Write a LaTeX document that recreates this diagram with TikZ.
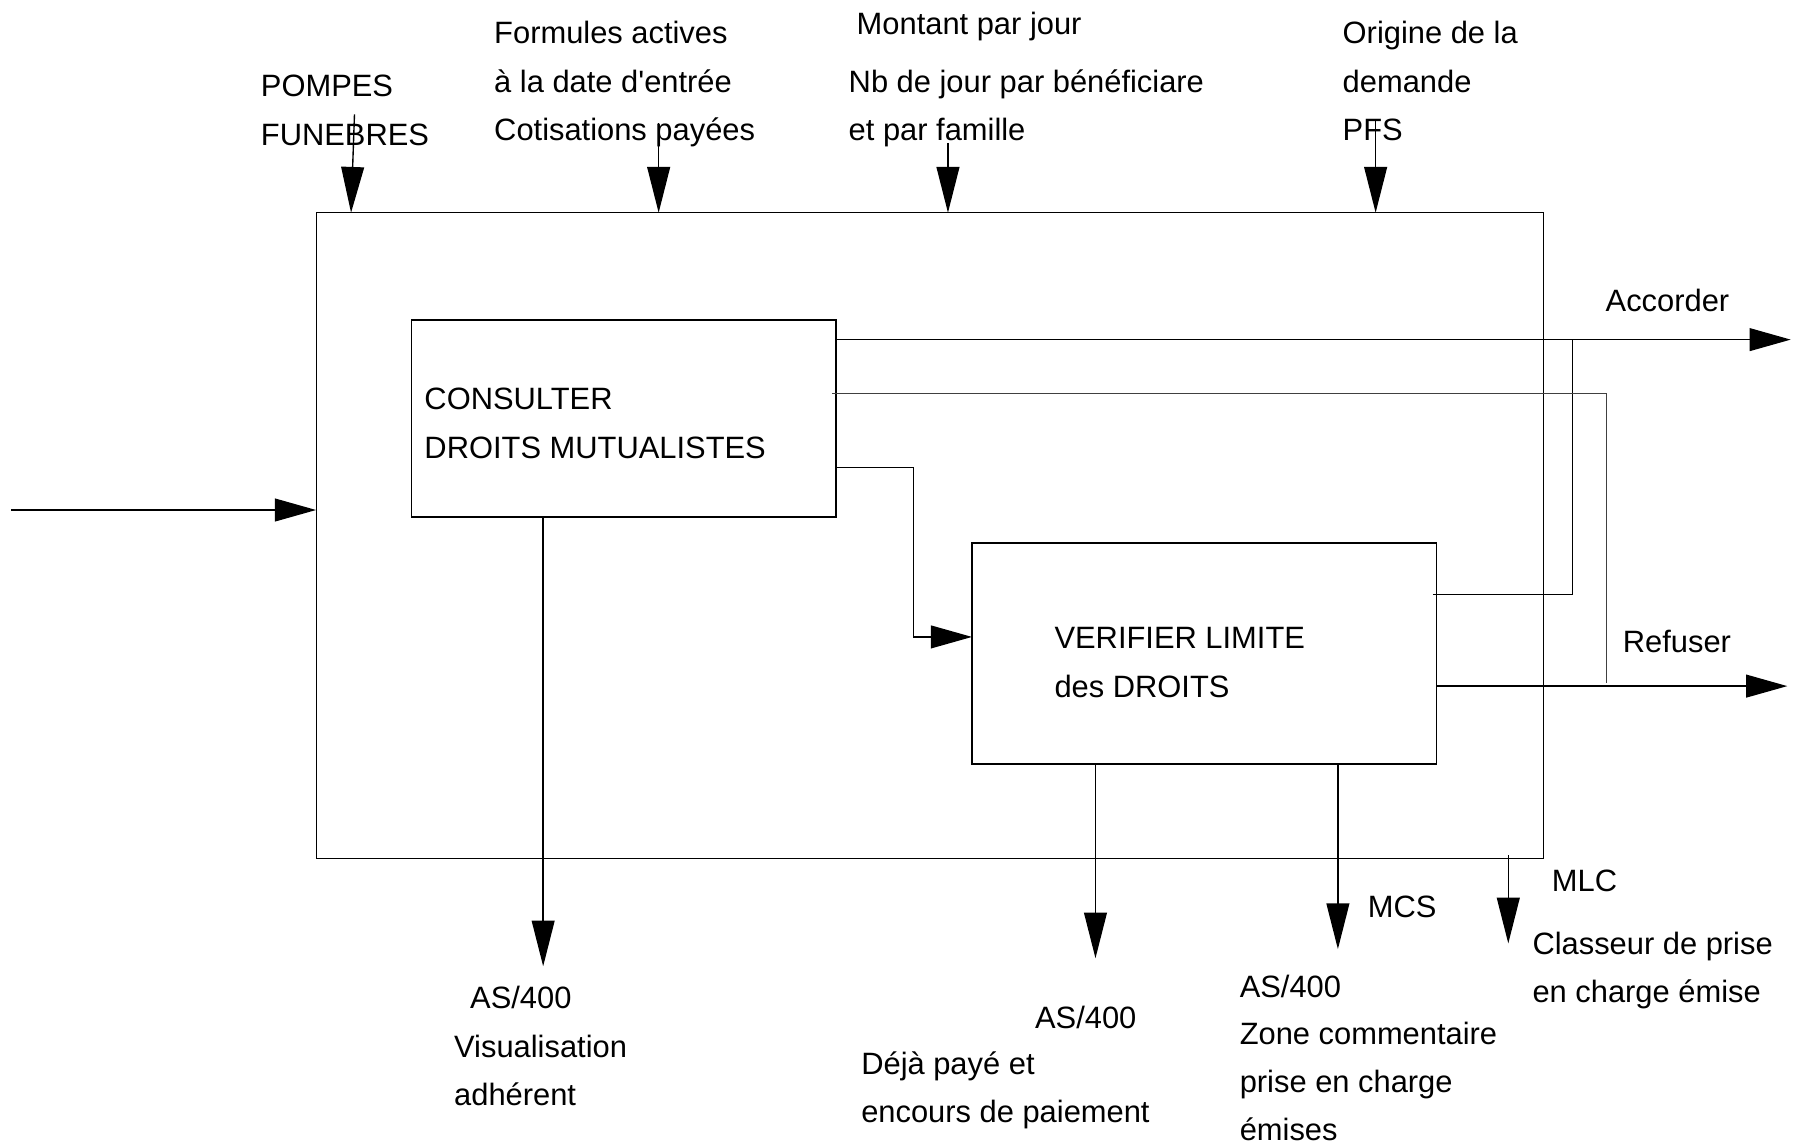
\documentclass[tikz,border=0pt]{standalone}
\usepackage{fontspec}
\setmainfont{Liberation Sans}
\usetikzlibrary{arrows.meta}
\begin{document}
\begin{tikzpicture}[x=1pt,y=-1pt,
  every node/.style={font=\fontsize{27}{42.5}\selectfont},
  lbl/.style={anchor=base west,align=left,inner sep=0pt},
  boxx/.style={draw,line width=1.2pt,inner sep=0pt,anchor=center},
  ln/.style={line width=1.2pt},
  arr/.style={line width=1.2pt,-{Triangle[length=40pt,width=20pt]}},
  harr/.style={line width=1.2pt,-{Triangle[length=36pt,width=20pt]}}]
\useasboundingbox (0,0) rectangle (1568,998);

% outer box
\node[boxx,minimum width=1073pt,minimum height=565pt] (outer) at (813.5,468.5) {};
% inner boxes
\node[boxx,minimum width=371pt,minimum height=172pt] (box1) at (545.5,366) {};
\node[boxx,minimum width=406pt,minimum height=193pt] (box2) at (1053,571.5) {};
\node[lbl] (box1t) at (371,401) {CONSULTER\\DROITS MUTUALISTES};
\node[lbl] (box2t) at (922,610) {VERIFIER LIMITE\\des DROITS};

% labels (anchor = baseline of last line)
\node[lbl] (pompes) at (228,127) {POMPES\\FUNEBRES};
\node[lbl] (formules) at (432,123) {Formules actives\\à la date d\textquotesingle entrée\\Cotisations payées};
\node[lbl] (montant) at (749,30) {Montant par jour};
\node[lbl] (nbjour) at (742,123) {Nb de jour par bénéficiare\\et par famille};
\node[lbl] (origine) at (1174,123) {Origine de la\\demande\\PFS};
\node[lbl] (accorder) at (1404,272) {Accorder};
\node[lbl] (refuser) at (1419,571) {Refuser};
\node[lbl] (asA) at (411,882) {AS/400};
\node[lbl] (visu) at (397,967) {Visualisation\\adhérent};
\node[lbl] (asB) at (905,899) {AS/400};
\node[lbl] (deja) at (753,982) {Déjà payé et\\encours de paiement};
\node[lbl] (mcs) at (1196,802) {MCS};
\node[lbl,font=\fontsize{27}{41.7}\selectfont] (zone) at (1084,997) {AS/400\\Zone commentaire\\prise en charge\\émises};
\node[lbl] (mlc) at (1357,780) {MLC};
\node[lbl] (classeur) at (1340,877) {Classeur de prise\\en charge émise};

% coordinates
\coordinate (inS) at (10,446);
\coordinate (pS) at (310,100);   \coordinate (pE) at (307,186);
\coordinate (fS) at (576,108);   \coordinate (fE) at (576,186);
\coordinate (mS) at (829,125);   \coordinate (mE) at (829,186);
\coordinate (oS) at (1203,105);  \coordinate (oE) at (1203,186);
\coordinate (accE) at (1566,297);
\coordinate (accK) at (1375,297);
\coordinate (b2acc) at (1253,520);
\coordinate (refK) at (1405,344);
\coordinate (refS) at (728,344);
\coordinate (refB) at (1405,597);
\coordinate (refE) at (1563,600);
\coordinate (b12) at (799,409);
\coordinate (b12in) at (850,557);
\coordinate (dA) at (475,845);
\coordinate (dB) at (958,838);
\coordinate (dC) at (1170,830);
\coordinate (mlcS) at (1319,748);
\coordinate (mlcE) at (1319,825);

% connectors
\draw[harr] (inS) -- (inS -| outer.west);
\draw[arr] (pS) -- (pE);
\draw[arr] (fS) -- (fE);
\draw[arr] (mS) -- (mE);
\draw[arr] (oS) -- (oE);

\draw[harr] (box1.east |- accE) -- (accE);
\draw[ln] (b2acc) -- (b2acc -| accK) -- (accK);
\draw[ln,black!75] (refS) -- (refK) -- (refB);
\draw[harr] (box2.east |- refE) -- (refE);
\draw[harr] (box1.east |- b12) -- (b12) |- (b12in);

\draw[arr] (box1.south -| dA) -- (dA);
\draw[arr] (box2.south -| dB) -- (dB);
\draw[arr] (box2.south -| dC) -- (dC);
\draw[arr] (mlcS) -- (mlcE);
\end{tikzpicture}
\end{document}
